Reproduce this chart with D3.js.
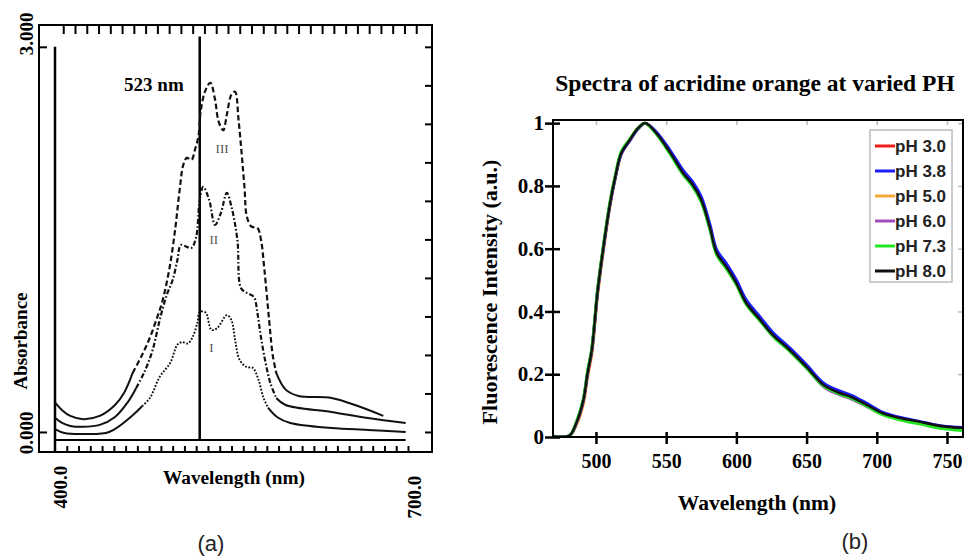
<!DOCTYPE html>
<html>
<head>
<meta charset="utf-8">
<script src="https://cdn.jsdelivr.net/npm/d3@7"></script>
<style>
  body { margin: 0; background: #fff; }
  svg { display: block; }
</style>
</head>
<body>
<svg width="964" height="559"></svg>
<script>
'use strict';

// ---- panel (a): absorbance spectra, curves I, II, III ----
const wlIII = [400, 406, 413, 424, 438, 451, 459, 466, 474, 480, 486, 491, 497, 502, 506, 509, 512, 516, 519, 522,
  524, 528, 532, 536, 539, 543, 546, 550, 553, 556, 561, 563, 567, 572, 575, 578, 582, 585, 588, 596, 607, 635, 658, 679];
const absIII = [0.23, 0.17, 0.125, 0.10, 0.125, 0.21, 0.31, 0.46, 0.60, 0.72, 0.87, 1.01, 1.26, 1.57, 1.89, 2.08, 2.135, 2.12, 2.20, 2.31,
  2.51, 2.665, 2.72, 2.59, 2.42, 2.35, 2.47, 2.63, 2.65, 2.43, 1.91, 1.68, 1.60, 1.59, 1.50, 1.26, 0.87, 0.60, 0.46, 0.33, 0.28, 0.265, 0.20, 0.125];

const wlII = [400, 406, 413, 424, 438, 451, 462, 469, 476, 483, 489, 495, 500, 504, 507, 512, 516, 520, 523, 526,
  531, 536, 541, 546, 550, 555, 558, 563, 569, 572, 575, 579, 583, 588, 596, 635, 666, 698];
const absII = [0.11, 0.07, 0.047, 0.04, 0.055, 0.117, 0.234, 0.343, 0.468, 0.639, 0.873, 1.068, 1.184, 1.34, 1.457, 1.442, 1.434, 1.52, 1.808, 1.909,
  1.808, 1.613, 1.707, 1.862, 1.753, 1.496, 1.122, 1.083, 1.052, 0.927, 0.74, 0.538, 0.382, 0.265, 0.21, 0.156, 0.109, 0.07];

const wlI = [400, 408, 424, 446, 466, 474, 481, 489, 498, 504, 508, 513, 517, 521, 523, 528, 533, 538, 546, 550,
  553, 557, 563, 568, 573, 577, 581, 589, 600, 635, 666, 698];
const absI = [0.023, -0.008, -0.016, 0.0, 0.13, 0.20, 0.27, 0.43, 0.54, 0.68, 0.70, 0.69, 0.74, 0.85, 0.935, 0.93, 0.795, 0.81, 0.91, 0.87,
  0.72, 0.56, 0.505, 0.50, 0.405, 0.27, 0.19, 0.115, 0.07, 0.031, 0.016, 0.0];

const curveNames = ['III', 'II', 'I'];
// wavelength range drawn broken (between the two solid tails)
const brokenFrom = [466, 469, 474];
const brokenTo = [588, 588, 581];
// where the roman numeral sits
const labelWl = [542, 535, 533];
const labelAbs = [2.21, 1.50, 0.655];
const peakLine = 523;

// ---- panel (b): fluorescence of acridine orange at several pH ----
const fluoWl = [469, 481, 486, 491, 494, 497, 499, 501, 505, 510, 514, 518, 524, 530, 535, 543, 553, 562, 569, 575,
  581, 586, 593, 600, 607, 617, 626, 638, 650, 662, 672, 682, 693, 704, 716, 731, 745, 761];
const ph30 = [0.003, 0.004, 0.043, 0.115, 0.2, 0.273, 0.36, 0.456, 0.594, 0.743, 0.834, 0.904, 0.946, 0.984, 1.0, 0.97, 0.908, 0.845, 0.806, 0.758,
  0.674, 0.592, 0.549, 0.498, 0.432, 0.377, 0.327, 0.279, 0.224, 0.166, 0.142, 0.126, 0.101, 0.075, 0.06, 0.047, 0.035, 0.029];
const ph38 = [0.003, 0.004, 0.045, 0.118, 0.204, 0.277, 0.363, 0.458, 0.594, 0.742, 0.832, 0.902, 0.944, 0.982, 1.0, 0.972, 0.912, 0.85, 0.812, 0.765,
  0.68, 0.596, 0.552, 0.5, 0.437, 0.382, 0.333, 0.284, 0.23, 0.172, 0.149, 0.133, 0.107, 0.079, 0.063, 0.049, 0.036, 0.03];
const ph50 = [0.003, 0.003, 0.038, 0.105, 0.19, 0.262, 0.348, 0.444, 0.582, 0.735, 0.828, 0.9, 0.944, 0.983, 1.0, 0.968, 0.905, 0.842, 0.803, 0.755,
  0.668, 0.585, 0.54, 0.489, 0.426, 0.372, 0.324, 0.276, 0.222, 0.165, 0.141, 0.124, 0.099, 0.074, 0.059, 0.046, 0.034, 0.028];
const ph60 = [0.003, 0.004, 0.044, 0.117, 0.203, 0.276, 0.362, 0.458, 0.595, 0.744, 0.834, 0.904, 0.945, 0.983, 1.0, 0.967, 0.903, 0.839, 0.8, 0.752,
  0.666, 0.583, 0.538, 0.487, 0.424, 0.37, 0.322, 0.274, 0.22, 0.161, 0.137, 0.121, 0.097, 0.073, 0.058, 0.046, 0.034, 0.028];
const ph73 = [0.002, 0.004, 0.048, 0.122, 0.209, 0.282, 0.368, 0.464, 0.601, 0.75, 0.839, 0.909, 0.949, 0.985, 1.0, 0.965, 0.9, 0.836, 0.797, 0.749,
  0.663, 0.58, 0.535, 0.485, 0.422, 0.369, 0.321, 0.273, 0.219, 0.163, 0.14, 0.124, 0.098, 0.071, 0.055, 0.041, 0.028, 0.021];
const ph80 = [0.003, 0.004, 0.045, 0.118, 0.204, 0.277, 0.363, 0.459, 0.596, 0.745, 0.835, 0.905, 0.946, 0.984, 1.0, 0.968, 0.905, 0.841, 0.803, 0.755,
  0.669, 0.586, 0.541, 0.490, 0.427, 0.373, 0.325, 0.277, 0.223, 0.166, 0.143, 0.127, 0.102, 0.076, 0.061, 0.048, 0.035, 0.029];
const phLabels = ['pH 3.0', 'pH 3.8', 'pH 5.0', 'pH 6.0', 'pH 7.3', 'pH 8.0'];
const phColors = ['#f01c1c', '#1c1cf5', '#f7a93a', '#a24dbb', '#22e622', '#111111'];
const fluoTicksX = [500, 550, 600, 650, 700, 750];
const fluoTicksY = [0, 0.2, 0.4, 0.6, 0.8, 1];

const SERIF = '"Liberation Serif", "Times New Roman", serif';
const SANS = '"Liberation Sans", Arial, sans-serif';

const svg = d3.select('svg');

// ================= panel (a) =================
const xa = d3.scaleLinear().domain([386.4, 720.4]).range([39, 432]);
const ya = d3.scaleLinear().domain([-0.156, 3.17]).range([452, 25]);
const pa = svg.append('g');

function inwardAxis(axis, tr) {
  pa.append('g')
    .attr('transform', tr)
    .call(axis.tickFormat('').tickSizeOuter(0))
    .call(g => g.select('.domain').remove())
    .call(g => g.selectAll('.tick line').attr('stroke', '#000').attr('stroke-width', 2));
}
inwardAxis(d3.axisBottom(xa).tickValues(d3.range(410, 701, 10)).tickSizeInner(-6), 'translate(0,452)');
inwardAxis(d3.axisTop(xa).tickValues(d3.range(407, 708, 10)).tickSizeInner(-9), 'translate(0,25)');
inwardAxis(d3.axisRight(ya).tickValues(d3.range(0, 3.01, 0.3)).tickSizeInner(-7), 'translate(432,0)');
inwardAxis(d3.axisLeft(ya).tickValues([0, 3]).tickSizeInner(-8), 'translate(39,0)');

pa.append('rect')
  .attr('x', 39).attr('y', 25).attr('width', 393).attr('height', 427)
  .attr('fill', 'none').attr('stroke', '#000').attr('stroke-width', 2);

// inner baseline and the 400 nm / 523 nm lines
pa.append('line')
  .attr('x1', xa(400)).attr('x2', xa(698)).attr('y1', ya(-0.062)).attr('y2', ya(-0.062))
  .attr('stroke', '#000').attr('stroke-width', 2);
pa.append('line')
  .attr('x1', xa(400)).attr('x2', xa(400)).attr('y1', ya(3)).attr('y2', 452)
  .attr('stroke', '#000').attr('stroke-width', 2.5);
pa.append('line')
  .attr('x1', xa(peakLine)).attr('x2', xa(peakLine)).attr('y1', ya(3.08)).attr('y2', ya(-0.062))
  .attr('stroke', '#000').attr('stroke-width', 2.5);

const lineA = d3.line()
  .x(d => xa(d[0])).y(d => ya(d[1]))
  .curve(d3.curveCatmullRom.alpha(0.5));
const absCurves = [d3.zip(wlIII, absIII), d3.zip(wlII, absII), d3.zip(wlI, absI)];
const dashes = ['5.5 3', '5 2.2 1.6 2.2', '1.8 1.6'];
absCurves.forEach((pts, i) => {
  const a = pts.filter(d => d[0] <= brokenFrom[i]);
  const m = pts.filter(d => d[0] >= brokenFrom[i] && d[0] <= brokenTo[i]);
  const b = pts.filter(d => d[0] >= brokenTo[i]);
  [a, b].forEach(seg => pa.append('path')
    .attr('d', lineA(seg)).attr('fill', 'none')
    .attr('stroke', '#111').attr('stroke-width', 2));
  pa.append('path')
    .attr('d', lineA(m)).attr('fill', 'none')
    .attr('stroke', '#111').attr('stroke-width', i === 2 ? 1.9 : 2.2)
    .attr('stroke-dasharray', dashes[i]);
  pa.append('text')
    .attr('x', xa(labelWl[i])).attr('y', ya(labelAbs[i]))
    .attr('text-anchor', 'middle').attr('dominant-baseline', 'central')
    .attr('font-family', SERIF).attr('font-size', 13).attr('fill', '#555')
    .text(curveNames[i]);
});

pa.append('text')
  .attr('x', xa(peakLine) - 16).attr('y', 91)
  .attr('text-anchor', 'end')
  .attr('font-family', SERIF).attr('font-size', 19).attr('font-weight', 'bold')
  .text(peakLine + ' nm');

function rotText(g, x, y, txt, size) {
  g.append('text')
    .attr('transform', `translate(${x},${y}) rotate(-90)`)
    .attr('text-anchor', 'middle')
    .attr('font-family', SERIF).attr('font-size', size).attr('font-weight', 'bold')
    .text(txt);
}
rotText(pa, 33, ya(3) - 13, '3.000', 19);
rotText(pa, 33, ya(0) + 1, '0.000', 19);
rotText(pa, xa(400) + 12, 487, '400.0', 19);
rotText(pa, xa(700) + 13, 497, '700.0', 19);
rotText(pa, 27, 341, 'Absorbance', 19);

pa.append('text')
  .attr('x', 234).attr('y', 484).attr('text-anchor', 'middle')
  .attr('font-family', SERIF).attr('font-size', 19.3).attr('font-weight', 'bold')
  .text('Wavelength (nm)');
pa.append('text')
  .attr('x', 211).attr('y', 551).attr('text-anchor', 'middle')
  .attr('font-family', SANS).attr('font-size', 22).attr('fill', '#222')
  .text('(a)');

// ================= panel (b) =================
const xb = d3.scaleLinear().domain([469.4, 761.4]).range([553, 963]);
const yb = d3.scaleLinear().domain([0, 1.01]).range([437, 120]);
const pb = svg.append('g');

pb.append('text')
  .attr('x', 755).attr('y', 91).attr('text-anchor', 'middle')
  .attr('font-family', SERIF).attr('font-size', 23.5).attr('font-weight', 'bold')
  .text('Spectra of acridine orange at varied PH');

// faint ticks on top and right borders
pb.append('g').attr('transform', 'translate(0,120)')
  .call(d3.axisTop(xb).tickValues(fluoTicksX).tickSizeInner(-5).tickSizeOuter(0).tickFormat(''))
  .call(g => g.select('.domain').remove())
  .call(g => g.selectAll('.tick line').attr('stroke', '#bbb').attr('stroke-width', 1.5));
pb.append('g').attr('transform', 'translate(963,0)')
  .call(d3.axisRight(yb).tickValues(fluoTicksY).tickSizeInner(-5).tickSizeOuter(0).tickFormat(''))
  .call(g => g.select('.domain').remove())
  .call(g => g.selectAll('.tick line').attr('stroke', '#bbb').attr('stroke-width', 1.5));

const clip = pb.append('clipPath').attr('id', 'clipb');
clip.append('rect').attr('x', 553).attr('y', 119).attr('width', 410).attr('height', 318);

const lineB = d3.line()
  .x(d => xb(d[0])).y(d => yb(d[1]))
  .curve(d3.curveCatmullRom.alpha(0.5));
const fluoSeries = [ph30, ph38, ph50, ph60, ph73, ph80];
const drawOrder = [2, 3, 0, 1, 4, 5];
drawOrder.forEach(i => {
  pb.append('path')
    .attr('clip-path', 'url(#clipb)')
    .attr('d', lineB(d3.zip(fluoWl, fluoSeries[i])))
    .attr('fill', 'none')
    .attr('stroke', phColors[i])
    .attr('stroke-width', i === 5 ? 2.4 : 3)
    .attr('stroke-linejoin', 'round');
});

pb.append('rect')
  .attr('x', 553).attr('y', 120).attr('width', 410).attr('height', 317)
  .attr('fill', 'none').attr('stroke', '#000').attr('stroke-width', 2);

pb.append('g').attr('transform', 'translate(0,437)')
  .call(d3.axisBottom(xb).tickValues(fluoTicksX).tickSizeInner(7).tickSizeOuter(0).tickPadding(10))
  .call(g => g.select('.domain').remove())
  .call(g => g.selectAll('.tick line').attr('y1', -5).attr('stroke', '#000').attr('stroke-width', 2.5))
  .call(g => g.selectAll('.tick text')
    .attr('font-family', SERIF).attr('font-size', 20).attr('font-weight', 'bold').attr('fill', '#000'));

pb.append('g').attr('transform', 'translate(553,0)')
  .call(d3.axisLeft(yb).tickValues(fluoTicksY).tickSizeInner(8).tickSizeOuter(0).tickPadding(1)
    .tickFormat(d3.format('.1~f')))
  .call(g => g.select('.domain').remove())
  .call(g => g.selectAll('.tick line').attr('x1', 7).attr('stroke', '#000').attr('stroke-width', 2.5))
  .call(g => g.selectAll('.tick text')
    .attr('font-family', SERIF).attr('font-size', 21).attr('font-weight', 'bold').attr('fill', '#000'));

pb.append('text')
  .attr('transform', 'translate(497,292) rotate(-90)')
  .attr('text-anchor', 'middle')
  .attr('font-family', SERIF).attr('font-size', 22).attr('font-weight', 'bold')
  .text('Fluorescence Intensity (a.u.)');
pb.append('text')
  .attr('x', 757).attr('y', 510).attr('text-anchor', 'middle')
  .attr('font-family', SERIF).attr('font-size', 21.5).attr('font-weight', 'bold')
  .text('Wavelength (nm)');
pb.append('text')
  .attr('x', 855).attr('y', 549).attr('text-anchor', 'middle')
  .attr('font-family', SANS).attr('font-size', 22).attr('fill', '#222')
  .text('(b)');

// legend
const lg = pb.append('g').attr('transform', 'translate(870,130)');
lg.append('rect')
  .attr('width', 82).attr('height', 152)
  .attr('fill', '#fff').attr('stroke', '#bbb').attr('stroke-width', 1.5);
phLabels.forEach((lab, i) => {
  const row = lg.append('g').attr('transform', `translate(0,${16 + i * 25})`);
  row.append('line')
    .attr('x1', 5).attr('x2', 25)
    .attr('stroke', phColors[i]).attr('stroke-width', 3);
  row.append('text')
    .attr('x', 25).attr('dy', '0.36em')
    .attr('font-family', SANS).attr('font-size', 17).attr('font-weight', 'bold').attr('fill', '#222')
    .text(lab);
});
</script>
</body>
</html>
